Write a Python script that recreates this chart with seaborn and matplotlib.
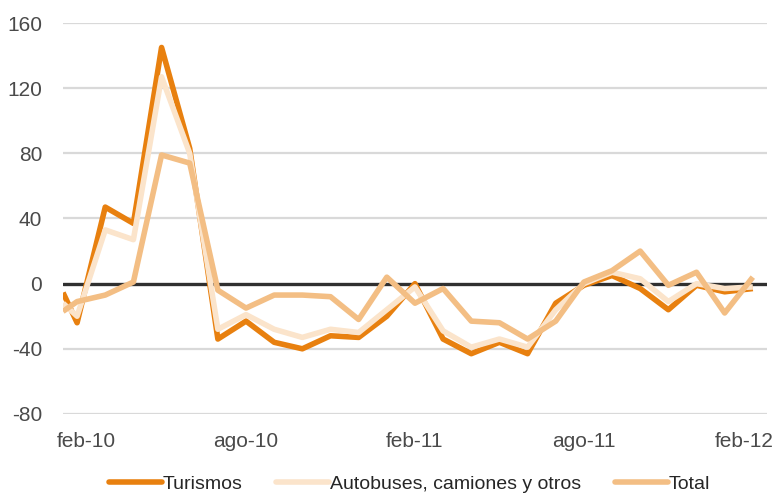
import matplotlib
matplotlib.use("Agg")
import matplotlib.pyplot as plt
import matplotlib.transforms as mtransforms
import pandas as pd
import seaborn as sns

# Monthly series (% change), first observation sits half a month before feb-10
meses = [-0.5, 0, 1, 2, 3, 4, 5, 6, 7, 8, 9, 10, 11, 12,
         13, 14, 15, 16, 17, 18, 19, 20, 21, 22, 23, 24]

turismos = [-5.5, -24, 47, 37, 145, 83, -34, -23, -36, -40, -32, -33, -20,
            0, -34, -43, -36, -43, -12, -1, 5, -3, -16, -1, -5, -3]
autobuses = [-12, -20, 33, 27, 127, 80, -28, -19, -28, -33, -28, -30, -16,
             -2, -29, -39, -34, -39, -16, 0, 7, 3, -11, 0, -3, -2]
total = [-17, -11, -7, 1, 79, 74, -4, -15, -7, -7, -8, -22, 4,
         -12, -3, -23, -24, -34, -23, 1, 8, 20, -1, 7, -18, 4]

series_names = ["Turismos", "Autobuses, camiones y otros", "Total"]
series_colors = ["#E8800F", "#FBE4CB", "#F3BE84"]

tick_pos = [0, 6, 12, 18, 24]
tick_labels = ["feb-10", "ago-10", "feb-11", "ago-11", "feb-12"]
y_ticks = [-80, -40, 0, 40, 80, 120, 160]

df = pd.concat([
    pd.DataFrame({"mes": meses, "valor": vals, "serie": name})
    for name, vals in zip(series_names, [turismos, autobuses, total])
], ignore_index=True)

sns.set_theme(style="white")
plt.rcParams["font.family"] = ["Liberation Sans", "DejaVu Sans"]

fig = plt.figure(figsize=(7.77, 4.94), dpi=100)
ax = fig.add_axes([0.0811, 0.162, 0.9059, 0.7914])

for y in y_ticks:
    if y != 0:
        ax.axhline(y, color="#D9D9D9", lw=1.6, zorder=0)
ax.axhline(0, color="#303030", lw=2.4, zorder=1)

sns.lineplot(data=df, x="mes", y="valor", hue="serie",
             hue_order=series_names, palette=series_colors,
             lw=4.0, ax=ax, legend=False, sort=False,
             solid_joinstyle="round", solid_capstyle="butt", zorder=2)

ax.set_xlim(-0.5, 24.5)
ax.set_ylim(-80, 160)
ax.set_yticks(y_ticks)
ax.set_yticklabels([str(v) for v in y_ticks])
ax.set_xticks(tick_pos)
ax.set_xticklabels(tick_labels)
ax.set_xlabel("")
ax.set_ylabel("")
ax.tick_params(axis="both", length=0, labelsize=15, colors="#4A4A4A")
ax.tick_params(axis="y", pad=15)
ax.tick_params(axis="x", pad=13)
for s in ax.spines.values():
    s.set_visible(False)
ax.grid(False)

# keep the edge month labels inside the plot width
xlabels = ax.get_xticklabels()
for lab, dx in ((xlabels[0], 9), (xlabels[-1], -9)):
    lab.set_transform(lab.get_transform() +
                      mtransforms.ScaledTranslation(dx / 100, 0, fig.dpi_scale_trans))

handles = [plt.Line2D([], [], color=c, lw=4.0, solid_capstyle="round")
           for c in series_colors]
leg = fig.legend(handles, series_names, loc="center", ncol=3,
                 bbox_to_anchor=(0.527, 0.02), frameon=False,
                 fontsize=14, handlelength=2.75, handletextpad=0.05,
                 columnspacing=1.7, borderaxespad=0)
for t in leg.get_texts():
    t.set_color("#262626")

fig.savefig("out.png", dpi=100)
